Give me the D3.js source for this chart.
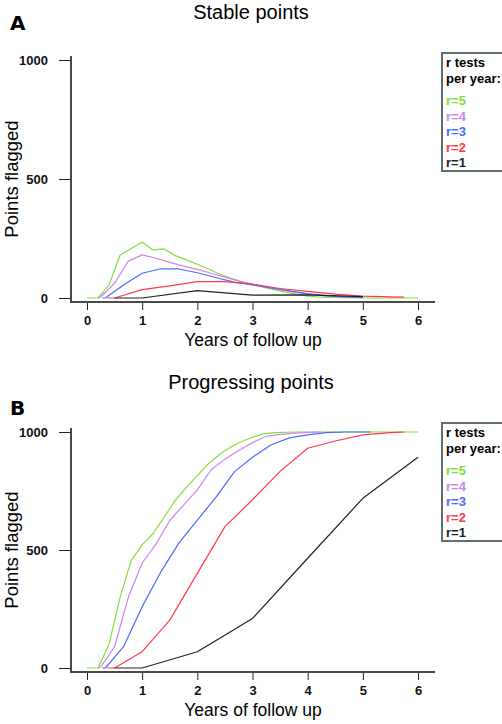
<!DOCTYPE html>
<html><head><meta charset="utf-8">
<script src="https://cdnjs.cloudflare.com/ajax/libs/d3/7.8.5/d3.min.js"></script>
<style>
html,body{margin:0;padding:0;background:#fff;}
svg{display:block;font-family:"Liberation Sans",Arial,sans-serif;}
</style></head>
<body>
<svg id="chart" width="502" height="724"></svg>
<script>
// ---------- data ----------
const seriesNames = ["r=5", "r=4", "r=3", "r=2", "r=1"];
const seriesColors = ["#7ee03c", "#cf84f0", "#4a6cff", "#ff3a4a", "#222222"];
const xTicks = [0, 1, 2, 3, 4, 5, 6];
const yTicks = [0, 500, 1000];
const legendTitle = ["r tests", "per year:"];

// Panel A: stable points
const stableT5 = [0,0.2,0.4,0.6,0.8,1.0,1.2,1.4,1.6,1.8,2.0,2.2,2.4,2.6,2.8,3.0,3.2,3.4,3.6,3.8,4.0,4.2,4.4,4.6,4.8,5.0,5.2,5.4,5.6,5.8,6.0];
const stableV5 = [0,0,55,181,208,234,202,206,178,160,142,122,101,84,69,57,45,34,24,15,8,4,2,1,1,0,0,0,0,0,0];
const stableT4 = [0.2,0.25,0.5,0.75,1.0,1.25,1.5,1.75,2.0,2.25,2.5,2.75,3.0,3.25,3.5,3.75,4.0,4.25,4.5,4.75,5.0];
const stableV4 = [0,4,62,155,181,167,150,134,120,104,88,71,57,45,35,25,16,10,6,4,2];
const stableT3 = [0.28,0.333,0.667,1.0,1.333,1.667,2.0,2.333,2.667,3.0,3.333,3.667,4.0,4.333,4.667,5.0];
const stableV3 = [0,0,56,104,123,122,106,86,67,55,42,30,18,10,5,3];
const stableT2 = [0.37,0.5,1.0,1.5,2.0,2.5,3.0,3.5,4.0,4.5,5.0,5.5,5.75];
const stableV2 = [0,0,35,51,69,69,58,40,28,16,8,5,4];
const stableT1 = [0.5,1,2,3,4,5];
const stableV1 = [0,0,31,12,13,6];

// Panel B: progressing points
const progT5 = stableT5;
const progV5 = [0,0,100,300,455,522,570,640,710,765,815,865,905,935,960,978,992,997,999,1000,1000,1000,1000,1000,1000,1000,1000,1000,1000,1000,1000];
const progT4 = [0.2,0.25,0.5,0.75,1.0,1.25,1.5,1.75,2.0,2.25,2.5,2.75,3.0,3.25,3.5,3.75,4.0,4.25];
const progV4 = [0,5,90,300,445,525,625,690,755,840,885,922,955,982,990,995,998,1000];
const progT3 = [0.28,0.333,0.667,1.0,1.333,1.667,2.0,2.333,2.667,3.0,3.333,3.667,4.0,4.333,4.667,5.0,5.15];
const progV3 = [0,0,92,260,405,530,627,722,830,893,945,975,988,997,1000,1000,1000];
const progT2 = [0.37,0.5,1.0,1.5,2.0,2.5,3.0,3.5,4.0,4.5,5.0,5.5,5.75];
const progV2 = [0,0,69,203,401,599,713,833,931,962,988,997,1000];
const progT1 = [0.5,1,2,3,4,5,6];
const progV1 = [0,0,69,210,465,719,893];

const panels = [
  {letter:"A", title:"Stable points", top:0, letterY:30,
   series:[[stableT5,stableV5],[stableT4,stableV4],[stableT3,stableV3],[stableT2,stableV2],[stableT1,stableV1]]},
  {letter:"B", title:"Progressing points", top:370, letterY:45,
   series:[[progT5,progV5],[progT4,progV4],[progT3,progV3],[progT2,progV2],[progT1,progV1]]}
];

// ---------- drawing ----------
const svg = d3.select("#chart");
const x = d3.scaleLinear().domain([0, 6]).range([87, 418]);
const axisColor = "#4a4a4a";

panels.forEach(p => {
  const g = svg.append("g").attr("transform", `translate(0,${p.top})`);
  const y = d3.scaleLinear().domain([0, 1000]).range([298, p.top === 0 ? 60 : 62]);

  // panel letter and title
  g.append("text").attr("x", 10).attr("y", p.letterY).text(p.letter)
    .attr("font-size", 20).attr("font-weight", "bold").attr("font-family", "'DejaVu Sans',sans-serif").attr("fill", "#000");
  g.append("text").attr("x", 251).attr("y", 19).attr("text-anchor", "middle").text(p.title)
    .attr("font-size", 20).attr("fill", "#000");

  // lines (drawn green first, black last)
  const line = d3.line().x(d => x(d[0])).y(d => y(d[1]));
  p.series.forEach((s, i) => {
    const pts = s[0].map((t, k) => [t, s[1][k]]);
    g.append("path").datum(pts).attr("d", line)
      .attr("fill", "none").attr("stroke", seriesColors[i]).attr("stroke-width", 1.2)
      .attr("stroke-linejoin", "round");
  });

  // axes
  const yAxis = d3.axisLeft(y).tickValues(yTicks).tickSize(12).tickPadding(11).tickFormat(d3.format("d"));
  const ya = g.append("g").attr("transform", "translate(71,0)").call(yAxis);
  ya.select(".domain").remove();
  ya.selectAll(".tick line").attr("stroke", "#222");
  ya.selectAll(".tick text").attr("font-size", 13).attr("font-weight", "bold")
    .attr("font-family", "'Liberation Sans',Arial,sans-serif").attr("fill", "#111");

  const xAxis = d3.axisBottom(x).tickValues(xTicks).tickSize(8).tickPadding(6).tickFormat(d3.format("d"));
  const xa = g.append("g").attr("transform", "translate(0,302)").call(xAxis);
  xa.select(".domain").remove();
  xa.selectAll(".tick line").attr("stroke", "#222");
  xa.selectAll(".tick text").attr("font-size", 13).attr("font-weight", "bold")
    .attr("font-family", "'Liberation Sans',Arial,sans-serif").attr("fill", "#111");

  // axis lines
  g.append("line").attr("x1", 71).attr("x2", 71).attr("y1", y(1000) - 4).attr("y2", 303)
    .attr("stroke", axisColor).attr("stroke-width", 2);
  g.append("line").attr("x1", 70).attr("x2", x(6) + 17).attr("y1", 302).attr("y2", 302)
    .attr("stroke", axisColor).attr("stroke-width", 2);

  // axis titles
  g.append("text").attr("x", 253).attr("y", 346).attr("text-anchor", "middle")
    .text("Years of follow up").attr("font-size", 17.5).attr("fill", "#000");
  g.append("text").attr("transform", `translate(18,${(y(0) + y(1000)) / 2}) rotate(-90)`)
    .attr("text-anchor", "middle").text("Points flagged").attr("font-size", 18.5).attr("fill", "#000");

  // legend
  const lg = g.append("g").attr("transform", "translate(442,53)");
  lg.append("rect").attr("x", 0).attr("y", 0).attr("width", 70).attr("height", 118)
    .attr("fill", "#fff").attr("stroke", "#5f6e6e").attr("stroke-width", 2);
  legendTitle.forEach((t, i) => {
    lg.append("text").attr("x", 4).attr("y", 14 + i * 16).text(t)
      .attr("font-size", 13).attr("font-weight", "bold").attr("fill", "#000");
  });
  seriesNames.forEach((n, i) => {
    lg.append("text").attr("x", 4).attr("y", 52 + i * 15.5).text(n)
      .attr("font-size", 13).attr("font-weight", "bold").attr("fill", seriesColors[i]);
  });
});
</script>
</body></html>
